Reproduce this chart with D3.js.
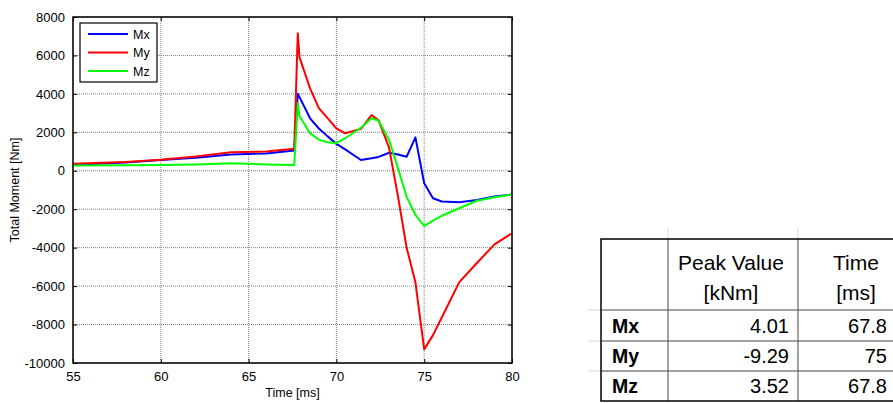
<!DOCTYPE html>
<html>
<head>
<meta charset="utf-8">
<script src="https://cdn.jsdelivr.net/npm/d3@7"></script>
<style>
body { margin: 0; background: #fff; }
svg { display: block; font-family: Arial, "Liberation Sans", sans-serif; }
</style>
</head>
<body>
<svg id="chart" width="893" height="403"></svg>
<script>
// time samples [ms] and total moments [Nm]
const times = [55, 58, 60, 62, 64, 66, 67.6, 67.8, 67.9, 68.5, 69, 69.5, 70, 70.5, 71.4, 72, 72.4, 73, 73.5, 74, 74.5, 75, 75.5, 76, 77, 78, 79, 80]
const mx = [310, 430, 560, 680, 850, 900, 1050, 4010, 3830, 2730, 2200, 1790, 1400, 1110, 560, 650, 720, 940, 850, 730, 1740, -650, -1430, -1600, -1640, -1520, -1340, -1230]
const my = [370, 460, 570, 740, 960, 1000, 1150, 7150, 5900, 4290, 3260, 2740, 2200, 1950, 2180, 2900, 2620, 1200, -1300, -4000, -5800, -9290, -8550, -7630, -5790, -4800, -3830, -3250]
const mz = [280, 290, 300, 330, 390, 330, 300, 3520, 2850, 1950, 1620, 1480, 1450, 1690, 2240, 2730, 2600, 1600, 150, -1360, -2300, -2870, -2590, -2340, -1950, -1560, -1380, -1230]

const seriesNames = ['Mx', 'My', 'Mz']
const seriesColors = ['#0000ff', '#ff0000', '#00ff00']
const seriesValues = [mx, my, mz]

const xTicks = [55, 60, 65, 70, 75, 80]
const yTicks = [-10000, -8000, -6000, -4000, -2000, 0, 2000, 4000, 6000, 8000]

// summary table
const tableHeader = [['Peak Value', '[kNm]'], ['Time', '[ms]']]
const peakValues = ['4.01', '-9.29', '3.52']
const peakTimes = ['67.8', '75', '67.8']

const svg = d3.select('#chart')

const plotLeft = 73
const plotTop = 17
const plotW = 439
const plotH = 346

const x = d3.scaleLinear().domain([55, 80]).range([plotLeft, plotLeft + plotW])
const y = d3.scaleLinear().domain([-10000, 8000]).range([plotTop + plotH, plotTop])

// grid
const grid = svg.append('g')
grid.selectAll('.gx').data(xTicks).enter().append('line')
  .attr('x1', d => x(d)).attr('x2', d => x(d))
  .attr('y1', plotTop).attr('y2', plotTop + plotH)
  .attr('stroke', '#808080').attr('stroke-dasharray', '1,1')
grid.selectAll('.gy').data(yTicks).enter().append('line')
  .attr('y1', d => y(d)).attr('y2', d => y(d))
  .attr('x1', plotLeft).attr('x2', plotLeft + plotW)
  .attr('stroke', '#808080').attr('stroke-dasharray', '1,1')

// axes: ticks point inward, labels outside
svg.append('g').attr('transform', `translate(0,${plotTop + plotH})`)
  .call(d3.axisBottom(x).tickValues(xTicks).tickSizeInner(-4).tickSizeOuter(0).tickPadding(9))
svg.append('g').attr('transform', `translate(0,${plotTop})`)
  .call(d3.axisTop(x).tickValues(xTicks).tickSizeInner(-4).tickSizeOuter(0).tickFormat(''))
svg.append('g').attr('transform', `translate(${plotLeft},0)`)
  .call(d3.axisLeft(y).tickValues(yTicks).tickSizeInner(-4).tickSizeOuter(0).tickPadding(8).tickFormat(d => String(d)))
svg.append('g').attr('transform', `translate(${plotLeft + plotW},0)`)
  .call(d3.axisRight(y).tickValues(yTicks).tickSizeInner(-4).tickSizeOuter(0).tickFormat(''))

svg.selectAll('.domain').remove()
svg.selectAll('.tick line').attr('stroke', '#000')
svg.selectAll('.tick text').attr('font-size', 13).attr('font-family', 'Arial, "Liberation Sans", sans-serif').attr('fill', '#000')

// lines
const line = d3.line()
  .x((d, i) => x(times[i]))
  .y(d => y(d))

seriesValues.forEach((values, i) => {
  svg.append('path')
    .datum(values)
    .attr('fill', 'none')
    .attr('stroke', seriesColors[i])
    .attr('stroke-width', 2)
    .attr('stroke-linejoin', 'round')
    .attr('d', line)
})

// frame
svg.append('rect')
  .attr('x', plotLeft).attr('y', plotTop).attr('width', plotW).attr('height', plotH)
  .attr('fill', 'none').attr('stroke', '#000').attr('stroke-width', 1.5)

// axis titles
svg.append('text')
  .attr('x', plotLeft + plotW / 2).attr('y', 397)
  .attr('text-anchor', 'middle').attr('font-size', 12.5)
  .text('Time [ms]')
svg.append('text')
  .attr('transform', `translate(19,${plotTop + plotH / 2}) rotate(-90)`)
  .attr('text-anchor', 'middle').attr('font-size', 12.5)
  .text('Total Moment [Nm]')

// legend
const legend = svg.append('g').attr('transform', 'translate(80,23)')
legend.append('rect')
  .attr('width', 77).attr('height', 59)
  .attr('fill', '#fff').attr('stroke', '#000').attr('stroke-width', 1.2)
seriesNames.forEach((name, i) => {
  const ly = 11 + i * 18.5
  legend.append('line')
    .attr('x1', 8).attr('x2', 48).attr('y1', ly).attr('y2', ly)
    .attr('stroke', seriesColors[i]).attr('stroke-width', 2)
  legend.append('text')
    .attr('x', 53).attr('y', ly).attr('dy', '0.36em')
    .attr('font-size', 12.5)
    .text(name)
})

// table
const colEdges = [601, 668, 798, 914]
const rowEdges = [239, 310, 341, 371, 401]
const table = svg.append('g')

// faint spreadsheet gridlines around the table
colEdges.slice(1, 3).forEach(cx => {
  table.append('line').attr('x1', cx).attr('x2', cx).attr('y1', 228).attr('y2', rowEdges[0])
    .attr('stroke', '#d8d8d8')
})
rowEdges.slice(1, 4).forEach(ry => {
  table.append('line').attr('x1', 588).attr('x2', colEdges[0]).attr('y1', ry).attr('y2', ry)
    .attr('stroke', '#d8d8d8')
})

rowEdges.slice(1, 4).forEach(ry => {
  table.append('line').attr('x1', colEdges[0]).attr('x2', colEdges[3]).attr('y1', ry).attr('y2', ry)
    .attr('stroke', '#444').attr('stroke-width', 1)
})
colEdges.slice(1, 3).forEach(cx => {
  table.append('line').attr('x1', cx).attr('x2', cx).attr('y1', rowEdges[0]).attr('y2', rowEdges[4])
    .attr('stroke', '#444').attr('stroke-width', 1)
})
table.append('rect')
  .attr('x', colEdges[0]).attr('y', rowEdges[0])
  .attr('width', colEdges[3] - colEdges[0]).attr('height', rowEdges[4] - rowEdges[0])
  .attr('fill', 'none').attr('stroke', '#000').attr('stroke-width', 1.5)

const headerCenters = [731, 856]
tableHeader.forEach((lines, c) => {
  lines.forEach((txt, k) => {
    table.append('text')
      .attr('x', headerCenters[c]).attr('y', 270 + k * 30)
      .attr('text-anchor', 'middle').attr('font-size', 21)
      .text(txt)
  })
})

seriesNames.forEach((name, r) => {
  const cy = (rowEdges[r + 1] + rowEdges[r + 2]) / 2
  table.append('text')
    .attr('x', 612).attr('y', cy).attr('dy', '0.36em')
    .attr('font-size', 19.5).attr('font-weight', 'bold')
    .text(name)
  table.append('text')
    .attr('x', 789).attr('y', cy).attr('dy', '0.36em')
    .attr('text-anchor', 'end').attr('font-size', 20)
    .text(peakValues[r])
  table.append('text')
    .attr('x', 887).attr('y', cy).attr('dy', '0.36em')
    .attr('text-anchor', 'end').attr('font-size', 20)
    .text(peakTimes[r])
})
</script>
</body>
</html>
